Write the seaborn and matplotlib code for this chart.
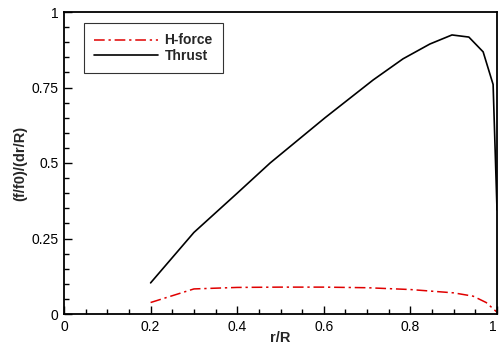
import matplotlib
matplotlib.use("Agg")
import matplotlib.pyplot as plt
import seaborn as sns
import pandas as pd
from matplotlib.ticker import MultipleLocator, FuncFormatter

r_thrust = [0.2, 0.3, 0.4, 0.476, 0.603, 0.714, 0.783, 0.845, 0.896, 0.935, 0.968, 0.991, 1.0]
thrust = [0.103, 0.27, 0.40, 0.50, 0.65, 0.775, 0.845, 0.894, 0.924, 0.917, 0.868, 0.76, 0.345]

r_h = [0.2, 0.3, 0.4, 0.5, 0.6, 0.7, 0.8, 0.9, 0.945, 0.975, 1.0]
hforce = [0.038, 0.083, 0.088, 0.089, 0.089, 0.087, 0.081, 0.070, 0.059, 0.038, 0.006]

x_ticks = [0, 0.2, 0.4, 0.6, 0.8, 1]
x_ticklabels = ["0", "0.2", "0.4", "0.6", "0.8", "1"]
y_ticks = [0, 0.25, 0.5, 0.75, 1]
y_ticklabels = ["0", "0.25", "0.5", "0.75", "1"]

sns.set_theme(style="white")
plt.rcParams['font.family'] = ['Liberation Sans', 'DejaVu Sans']

fig = plt.figure(figsize=(4.99, 3.48), dpi=100)
ax = fig.add_axes([64/499, 34/348, 433/499, 302/348])

df_h = pd.DataFrame({"r": r_h, "v": hforce})
df_t = pd.DataFrame({"r": r_thrust, "v": thrust})
sns.lineplot(data=df_h, x="r", y="v", ax=ax, color="#e00000", lw=1.1,
             dashes=False, label="H-force", linestyle=(0, (7, 2.5, 1.5, 2.5)))
sns.lineplot(data=df_t, x="r", y="v", ax=ax, color="black", lw=1.2, label="Thrust")

ax.set_xlim(0, 1)
ax.set_ylim(0, 1)
ax.set_xticks(x_ticks, x_ticklabels)
ax.set_yticks(y_ticks, y_ticklabels)
ax.xaxis.set_minor_locator(MultipleLocator(0.05))
ax.yaxis.set_minor_locator(MultipleLocator(0.05))
ax.tick_params(which="both", direction="in", bottom=True, left=True, top=False, right=False,
               colors="black", labelsize=10, width=1)
ax.tick_params(which="major", length=6, pad=4)
ax.tick_params(which="minor", length=3.5)
for s in ax.spines.values():
    s.set_color("black")
    s.set_linewidth(1.3)

ax.get_xticklabels()[-1].set_horizontalalignment("right")

ax.set_xlabel("r/R", fontsize=10.5, fontweight="bold", labelpad=-2)
ax.set_ylabel("(f/f0)/(dr/R)", fontsize=10.5, fontweight="bold", labelpad=3)

leg = ax.legend(loc="upper left", bbox_to_anchor=(20/433, 1 - 11/302), borderaxespad=0,
                frameon=True, fancybox=False, edgecolor="black", fontsize=10,
                handlelength=4.6, borderpad=0.75, labelspacing=0.1, handletextpad=0.45)
leg.get_frame().set_linewidth(0.8)
for t in leg.get_texts():
    t.set_fontweight("bold")

fig.savefig("out.png", dpi=100)
